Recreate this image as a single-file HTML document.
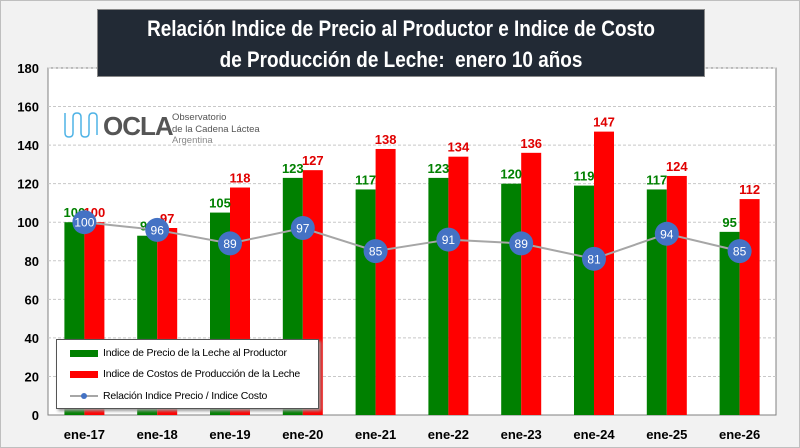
<!DOCTYPE html>
<html><head><meta charset="utf-8"><style>
body{margin:0;background:#fff}
#wrap{position:relative;width:798px;height:446px;background:#f2f2f2;border:1px solid #bfbfbf;font-family:"Liberation Sans",sans-serif;overflow:hidden}
#title{position:absolute;left:96px;top:8px;width:608px;height:68px;background:#222a35;color:#fff;border:1px solid #888;box-sizing:border-box}
#title div{position:absolute;left:0;width:100%;text-align:center;font-size:22px;font-weight:bold;transform:scaleX(0.86);white-space:nowrap}
#legend{position:absolute;left:55px;top:338px;width:261px;height:68px;background:#fff;border:1px solid #555;box-shadow:2px 2px 3px #999;font-size:10.5px;letter-spacing:-0.2px}
.li{position:absolute;left:13px;height:14px;display:flex;align-items:center;white-space:nowrap}
.sw{width:28px;height:7px;margin-right:5px}
</style></head><body>
<div id="wrap">
<svg id="chart" width="800" height="448" style="position:absolute;left:0;top:0"></svg>
<div id="title"><div style="top:6px">Relación Indice de Precio al Productor e Indice de Costo</div><div style="top:37px">de Producción de Leche:&nbsp; enero 10 años</div></div>
<div id="logo" style="position:absolute;left:60px;top:104px;width:200px;height:44px">
<svg width="40" height="30" style="position:absolute;left:2px;top:6px"><path d="M2 2 V22 Q2 26 6 26 Q10 26 10 22 V6 Q10 2 14 2 Q18 2 18 6 V22 Q18 26 22 26 Q26 26 26 22 V6 Q26 2 30 2 Q34 2 34 6 V24" fill="none" stroke="#4fb3e6" stroke-width="1.5"/></svg>
<span style="position:absolute;left:42px;top:6px;font-size:26px;font-weight:bold;color:#555;letter-spacing:-1px">OCLA</span>
<span style="position:absolute;left:111px;top:7px;font-size:9.5px;color:#555;line-height:11.5px;white-space:nowrap">Observatorio<br>de la Cadena Láctea<br><span style="color:#888">Argentina</span></span>
</div>
<div id="legend">
<div class="li" style="top:6px"><div class="sw" style="background:#008000"></div>Indice de Precio de la Leche al Productor</div>
<div class="li" style="top:27px"><div class="sw" style="background:#ff0000"></div>Indice de Costos de Producción de la Leche</div>
<div class="li" style="top:49px"><svg width="28" height="8" style="margin-right:5px"><line x1="0" y1="4" x2="28" y2="4" stroke="#a6a6a6" stroke-width="2"/><circle cx="14" cy="4" r="3" fill="#4472c4"/></svg>Relación Indice Precio / Indice Costo</div>
</div>
</div>
<script>
const categories=["ene-17","ene-18","ene-19","ene-20","ene-21","ene-22","ene-23","ene-24","ene-25","ene-26"];
const precio=[100,93,105,123,117,123,120,119,117,95];
const costo=[100,97,118,127,138,134,136,147,124,112];
const relacion=[100,96,89,97,85,91,89,81,94,85];
const yTicks=[0,20,40,60,80,100,120,140,160,180];
const svg=document.getElementById('chart');const NS="http://www.w3.org/2000/svg";
const L=47,R=775,T=67,B=414;
const y=v=>B-(v/180)*(B-T);
const band=(R-L)/categories.length;
const xc=i=>L+band*(i+0.5);
function el(t,a,p){const e=document.createElementNS(NS,t);for(const k in a)e.setAttribute(k,a[k]);(p||svg).appendChild(e);return e;}
let r=el('rect',{x:L,y:T,width:R-L,height:B-T,fill:'#fff',stroke:'#808080'});


yTicks.forEach(t=>{
 if(t>0){let g=el('line',{x1:L,x2:R,y1:y(t),y2:y(t),stroke:'#c8c8c8','stroke-dasharray':'3,2'});
 
 }
 let tx=el('text',{x:L-9,y:y(t)+5,'text-anchor':'end','font-size':13,'font-weight':'bold',fill:'#000'});tx.textContent=t;
 
 
});
el('line',{x1:L,x2:R,y1:B,y2:B,stroke:'#808080'});
const bw=20;
categories.forEach((c,i)=>{
 const cx=xc(i);
 let g=el('rect',{x:cx-bw,y:y(precio[i]),width:bw,height:B-y(precio[i]),fill:'#008000'});
 
 
 let rr=el('rect',{x:cx,y:y(costo[i]),width:bw,height:B-y(costo[i]),fill:'#ff0000'});
 
 
 let t1=el('text',{x:cx-bw/2,y:y(precio[i])-5,'text-anchor':'middle','font-size':13,'font-weight':'bold',fill:'#008000'});t1.textContent=precio[i];
 
 
 let t2=el('text',{x:cx+bw/2,y:y(costo[i])-5,'text-anchor':'middle','font-size':13,'font-weight':'bold',fill:'#e00000'});t2.textContent=costo[i];
 
 
 let xl=el('text',{x:cx,y:B+24,'text-anchor':'middle','font-size':13,'font-weight':'bold',fill:'#000'});xl.textContent=c;
 
 
});
let pl=el('polyline',{points:relacion.map((v,i)=>xc(i)+','+y(v)).join(' '),fill:'none',stroke:'#a6a6a6','stroke-width':2});


relacion.forEach((v,i)=>{
 let c=el('circle',{cx:xc(i),cy:y(v),r:12,fill:'#4472c4'});
 
 
 let t=el('text',{x:xc(i),y:y(v)+4.5,'text-anchor':'middle','font-size':12,fill:'#fff'});t.textContent=v;
 
 
});
</script>
</body></html>
